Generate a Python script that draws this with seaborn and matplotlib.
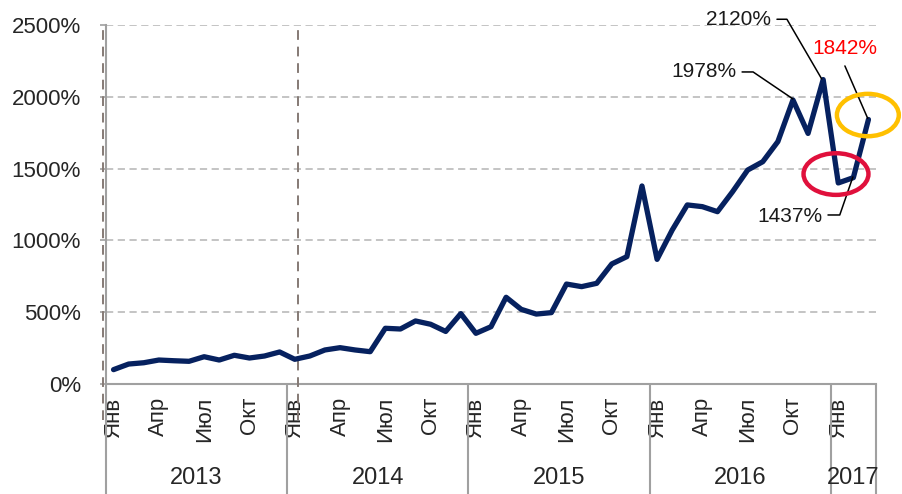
import pandas as pd
import matplotlib.pyplot as plt
import seaborn as sns
from matplotlib.patches import Ellipse

# monthly values, Jan 2013 .. Mar 2017 (in %)
values_2013 = [100, 139, 148, 167, 162, 158, 190, 167, 200, 181, 195, 223]
values_2014 = [172, 195, 237, 253, 237, 225, 388, 383, 439, 416, 366, 490]
values_2015 = [353, 399, 604, 520, 487, 497, 696, 678, 701, 836, 887, 1379]
values_2016 = [868, 1072, 1247, 1235, 1200, 1339, 1490, 1548, 1688, 1978, 1745, 2120]
values_2017 = [1400, 1437, 1842]

years = ["2013", "2014", "2015", "2016", "2017"]
months_per_year = [12, 12, 12, 12, 3]
month_names = ["Янв", "Апр", "Июл", "Окт"]
y_ticks = [0, 500, 1000, 1500, 2000, 2500]

# callouts: label, colour
callouts = [("1978%", "#1a1a1a"), ("2120%", "#1a1a1a"), ("1842%", "#FF0000"), ("1437%", "#1a1a1a")]

navy = "#06215F"
grey = "#A0A0A0"

values = values_2013 + values_2014 + values_2015 + values_2016 + values_2017
df = pd.DataFrame({"idx": range(len(values)), "value": values})

sns.set_style("white")
plt.rcParams["font.family"] = ["Liberation Sans", "DejaVu Sans"]

fig = plt.figure(figsize=(9.02, 4.94), dpi=100)
ax = fig.add_axes([106 / 902, 1 - 384 / 494, 770 / 902, 359 / 494])

sns.lineplot(data=df, x="idx", y="value", color=navy, linewidth=3.8, ax=ax,
             solid_joinstyle="round", solid_capstyle="round", zorder=5)

ax.set_xlim(-0.5, len(values) - 0.5)
ax.set_ylim(0, 2500)
ax.set_yticks(y_ticks)
ax.set_yticklabels([f"{v}%" for v in y_ticks])
ax.yaxis.grid(True, linestyle=(0, (4, 2.5)), color="#BFBFBF", lw=1.3)
ax.xaxis.grid(False)
ax.set_xlabel("")
ax.set_ylabel("")

# month ticks
tick_pos, tick_lab = [], []
start = 0
for n in months_per_year:
    for k in range(0, n, 3):
        tick_pos.append(start + k)
        tick_lab.append(month_names[k // 3])
    start += n
ax.set_xticks(tick_pos)
ax.set_xticklabels(tick_lab, rotation=90)
ax.tick_params(axis="x", length=0, labelsize=16, pad=9)
ax.tick_params(axis="y", length=4, width=1.2, color=grey, labelsize=16, pad=14, left=True)

for s in ["top", "right"]:
    ax.spines[s].set_visible(False)
for s in ["left", "bottom"]:
    ax.spines[s].set_color(grey)
    ax.spines[s].set_linewidth(1.5)

# year separators and labels
xt = ax.get_xaxis_transform()
start = 0
bounds = [-0.5]
for yr, n in zip(years, months_per_year):
    ax.text(start - 0.5 + n / 2, -0.262, yr, transform=xt, ha="center", va="center", fontsize=17)
    start += n
    bounds.append(start - 0.5)
ax.vlines(bounds, -0.31, 0, transform=xt, colors=grey, lw=1.5, clip_on=False)

# dashed vertical lines
ax.vlines([-0.7, 12.2], -0.1, 1, transform=xt, colors="#857A75", lw=1.4,
          linestyles=(0, (5, 3.5)), clip_on=False, zorder=3)

# callout texts with leader lines
txt_pos = [(39.1, 2173), (41.4, 2535), (48.44, 2333), (44.8, 1163)]
leaders = [
    ([41.63, 42.36, 45.0], [2173, 2173, 1985]),
    ([43.94, 44.6, 46.9], [2540, 2540, 2125]),
    ([48.44, 49.95], [2215, 1850]),
    ([47.32, 48.1, 48.97], [1177, 1177, 1442]),
]
for (lab, col), (tx, ty), (lx, ly) in zip(callouts, txt_pos, leaders):
    ax.text(tx, ty, lab, color=col, ha="center", va="center", fontsize=15, clip_on=False, zorder=7)
    ax.plot(lx, ly, color="black", lw=1.1, clip_on=False, zorder=6)

# highlight ellipses
ax.add_patch(Ellipse((47.85, 1462), 4.3, 290, fill=False, ec="#E0103C", lw=3.2,
                     clip_on=False, zorder=6))
ax.add_patch(Ellipse((49.96, 1873), 4.1, 295, fill=False, ec="#FFC000", lw=3.2,
                     clip_on=False, zorder=6))

fig.savefig("out.png", dpi=100)
